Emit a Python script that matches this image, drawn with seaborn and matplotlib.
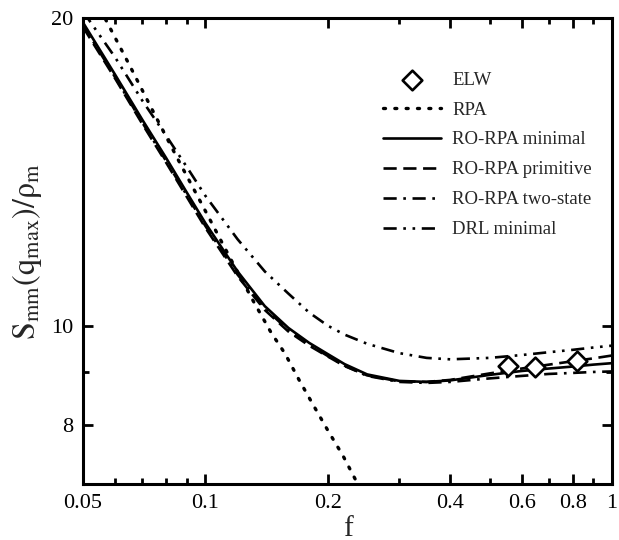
# S_mm(q_max)/rho_m versus f, log-log, several model curves plus ELW points

import matplotlib
matplotlib.use('Agg')
import matplotlib.pyplot as plt
from matplotlib.ticker import NullFormatter
import seaborn as sns

# model curves on a shared f grid
f_grid = [0.05, 0.06, 0.07, 0.08, 0.09, 0.1, 0.12, 0.14, 0.16, 0.18, 0.2,
          0.22, 0.25, 0.3, 0.35, 0.4, 0.5, 0.6, 0.7, 0.8, 0.9, 1.0]
ro_minimal = [19.8, 17.6, 15.9, 14.6, 13.5, 12.6, 11.3, 10.45, 9.95, 9.62, 9.38,
              9.17, 8.96, 8.83, 8.81, 8.84, 8.95, 9.03, 9.08, 9.12, 9.16, 9.19]
ro_primitive = [19.6, 17.45, 15.75, 14.45, 13.37, 12.47, 11.18, 10.36, 9.87, 9.56, 9.33,
                9.13, 8.94, 8.82, 8.81, 8.85, 8.98, 9.08, 9.16, 9.23, 9.29, 9.35]
ro_two_state = [19.7, 17.5, 15.8, 14.5, 13.42, 12.52, 11.22, 10.4, 9.9, 9.58, 9.34,
                9.14, 8.93, 8.81, 8.79, 8.81, 8.88, 8.93, 8.97, 8.99, 9.01, 9.02]
drl_minimal = [20.3, 18.3, 16.6, 15.35, 14.3, 13.4, 12.15, 11.3, 10.75, 10.3, 10.0,
               9.8, 9.6, 9.4, 9.3, 9.27, 9.3, 9.36, 9.42, 9.47, 9.52, 9.56]

# plain RPA falls off steeply
f_rpa = [0.05, 0.0566, 0.065, 0.075, 0.0852, 0.1, 0.115, 0.131, 0.145, 0.157,
         0.17, 0.184, 0.2, 0.218, 0.237, 0.245]
s_rpa = [22.0, 20.0, 18.0, 16.1, 14.6, 12.95, 11.65, 10.58, 9.85, 9.39,
         8.85, 8.37, 7.9, 7.46, 7.0, 6.8]

# ELW simulation points
f_elw = [0.555, 0.645, 0.82]
s_elw = [9.14, 9.12, 9.24]

sns.set_theme(style='ticks')
plt.rcParams['font.family'] = ['Liberation Serif', 'DejaVu Serif']
plt.rcParams['mathtext.fontset'] = 'stix'

fig, ax = plt.subplots(figsize=(6.19, 5.40), dpi=100)
fig.subplots_adjust(left=0.134, right=0.9887, bottom=0.1037, top=0.9667)

lw = 1.9
sns.scatterplot(x=f_elw, y=s_elw, marker='D', s=100, facecolor='white',
                edgecolor='black', linewidth=1.9, ax=ax, label='ELW', zorder=5)
sns.lineplot(x=f_rpa, y=s_rpa, color='black', lw=lw + 0.5, ax=ax, label='RPA',
             linestyle=(0, (0.6, 2.8)), dash_capstyle='round')

curves = [
    ('RO-RPA minimal', ro_minimal, '-'),
    ('RO-RPA primitive', ro_primitive, (0, (5, 2.5))),
    ('RO-RPA two-state', ro_two_state, (0, (5, 2.5, 1, 2.5))),
    ('DRL minimal', drl_minimal, (0, (5, 2.5, 1, 2.5, 1, 2.5))),
]
for name, vals, ls in curves:
    sns.lineplot(x=f_grid, y=vals, color='black', lw=lw, linestyle=ls,
                 ax=ax, label=name)

ax.set_xscale('log')
ax.set_yscale('log')
ax.set_xlim(0.05, 1.0)
ax.set_ylim(7, 20)

ax.set_xticks([0.05, 0.1, 0.2, 0.4, 0.6, 0.8, 1.0])
ax.set_xticklabels(['0.05', '0.1', '0.2', '0.4', '0.6', '0.8', '1'])
ax.set_xticks([0.06, 0.07, 0.08, 0.09, 0.3, 0.5, 0.7, 0.9], minor=True)
ax.xaxis.set_minor_formatter(NullFormatter())
ax.set_yticks([8, 10, 20])
ax.set_yticklabels(['8', '10', '20'])
ax.set_yticks([9], minor=True)
ax.yaxis.set_minor_formatter(NullFormatter())

ax.tick_params(which='both', direction='in', top=True, right=True,
               width=2.0, colors='black', labelsize=16, pad=7)
ax.tick_params(which='major', length=7)
ax.tick_params(which='minor', length=4.5)
for sp in ax.spines.values():
    sp.set_linewidth(2.2)
    sp.set_color('black')

ax.set_xlabel('f', fontsize=21, labelpad=2)
ax.set_ylabel(r'$\mathrm{S_{mm}(q_{max})/\rho_m}$', fontsize=23, labelpad=5)

ax.legend(loc='upper left', bbox_to_anchor=(0.567, 0.885), frameon=False,
          fontsize=13.5, handlelength=3.1, handletextpad=0.6, labelspacing=0.68,
          borderpad=0, borderaxespad=0)

plt.savefig('out.png', dpi=100)
